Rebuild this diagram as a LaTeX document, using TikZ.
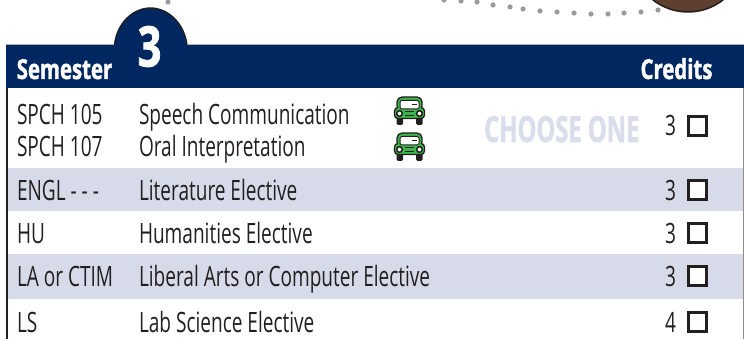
\documentclass[tikz,border=0pt]{standalone}
\usepackage{fontspec}
\setmainfont[FakeStretch=0.68]{Open Sans}
\newfontfamily\headfont[FakeStretch=0.74,FakeBold=1.4]{Open Sans Bold}
\newfontfamily\choosefont[FakeStretch=0.66,FakeBold=1.4]{Open Sans Bold}
\definecolor{navy}{HTML}{00275F}
\definecolor{band}{HTML}{D6DAE9}
\definecolor{chooseink}{HTML}{DADEEC}
\definecolor{dotgrey}{HTML}{9A9A9E}
\definecolor{ink}{HTML}{231F20}
\definecolor{cargreen}{HTML}{3DB54A}
\definecolor{brownfill}{HTML}{5E4030}
\tikzset{
  x=1pt,y=-1pt,
  cell/.style={anchor=base west,inner sep=0pt,outer sep=0pt,font=\fontsize{28}{32}\selectfont,text=ink},
  num/.style={anchor=base east,inner sep=0pt,outer sep=0pt,font=\fontsize{28}{32}\selectfont,text=ink},
  head/.style={anchor=base,inner sep=0pt,outer sep=0pt,text=white,font=\headfont\fontsize{27.5}{30}\selectfont},
  tick/.style={draw=ink,line width=2.6pt,fill=white,minimum width=18.5pt,minimum height=18.5pt,inner sep=0pt,outer sep=0pt},
  pt/.style={circle,fill=dotgrey,inner sep=0pt,minimum size=5.2pt},
  carbody/.style={fill=cargreen,draw=ink,line width=1.3pt},
}
\newcommand{\carat}[1]{%
\begin{scope}[shift={(#1)}]
  \fill[ink,rounded corners=1.5pt] (-13,4) rectangle (-6.5,14);
  \fill[ink,rounded corners=1.5pt] (6.5,4) rectangle (13,14);
  \draw[carbody,rounded corners=5pt] (-12.5,0) rectangle (12.5,-14);
  \draw[carbody,rounded corners=3.5pt] (-15,-3.5) rectangle (15,7.5);
  \fill[cargreen] (-11.6,-6) rectangle (11.6,-2);
  \draw[fill=white,draw=ink,line width=1pt,rounded corners=1.5pt] (-9.5,-2) rectangle (9.5,-10.5);
  \draw[ink,line width=1pt] (2,-6) -- (7,-6);
  \draw[fill=white,draw=ink,line width=1.5pt] (-10,2.5) circle (2.8pt);
  \draw[fill=white,draw=ink,line width=1.5pt] (10,2.5) circle (2.8pt);
  \draw[ink,line width=1pt] (-4.5,0.8) -- (4.5,0.8) (-4.5,4.2) -- (4.5,4.2);
\end{scope}}
\begin{document}
\begin{tikzpicture}
\useasboundingbox (0,0) rectangle (744,339);
% dotted trail
\foreach \px/\py in {168/2,444/0,461/1,477/2,493/5,510/7,523/9,540/11,557/12,574/13,591/14,608/14,624/13,641/12,658/10}
  \node[pt] at (\px,\py) {};
% brown disc
\begin{scope}
\clip (640,0) rectangle (744,20);
\draw[fill=brownfill,draw=ink,line width=1.5pt] (688,-45) circle (57pt);
\end{scope}
% rows
\fill[band] (6,168) rectangle (743,211);
\fill[band] (6,254) rectangle (743,299);
% hump and header
\draw[fill=navy,draw=ink,line width=1.4pt] (114.5,45) .. controls (117,22) and (134,8) .. (150.5,8) .. controls (167,8) and (184,22) .. (187,45);
\draw[color=black!30,line width=1pt] (6,44.6) -- (114,44.6) (187.5,44.6) -- (744,44.6);
\fill[navy] (6,45) rectangle (744,88);
\fill[navy] (115.5,46) rectangle (186,44);
% frame
\draw[ink,line width=1.6pt,rounded corners=3pt] (6.8,88) -- (6.8,339.5);
\draw[black!45,line width=1pt] (743.3,88) -- (743.3,339);
% header text
\node[head] (semester) at (64.5,79) {Semester};
\node[head] (credits) at (676.5,79) {Credits};
\node[head,font=\headfont\fontsize{56}{56}\selectfont] (three) at (149.5,66.5) {3};
% row texts
\node[cell] (c1) at (17,124.5) {SPCH 105};
\node[cell] (t1) at (139,124.5) {Speech Communication};
\node[cell] (c2) at (17,156.5) {SPCH 107};
\node[cell] (t2) at (139,156.5) {Oral Interpretation};
\node[cell] (c3) at (17,200.5) {ENGL - - -};
\node[cell] (t3) at (139,200.5) {Literature Elective};
\node[cell] (c4) at (17,243.5) {HU};
\node[cell] (t4) at (139,243.5) {Humanities Elective};
\node[cell] (c5) at (17,286.5) {LA or CTIM};
\node[cell] (t5) at (139,286.5) {Liberal Arts or Computer Elective};
\node[cell] (c6) at (17,332) {LS};
\node[cell] (t6) at (139,332) {Lab Science Elective};
\node[anchor=base west,inner sep=0pt,text=chooseink,font=\choosefont\fontsize{36}{36}\selectfont] (choose) at (484,142) {CHOOSE ONE};
% credits and boxes
\foreach \nm/\val/\by/\ty in {a/3/135/136,b/3/199/200.5,c/3/242/243.5,d/3/285/286.5,e/4/331/332}{
  \node[num] (n\nm) at (676,\ty) {\val};
  \node[tick] (b\nm) at (697.5,\by-9) {};
}
\carat{409.5,111}
\carat{409.5,147}
\end{tikzpicture}
\end{document}
